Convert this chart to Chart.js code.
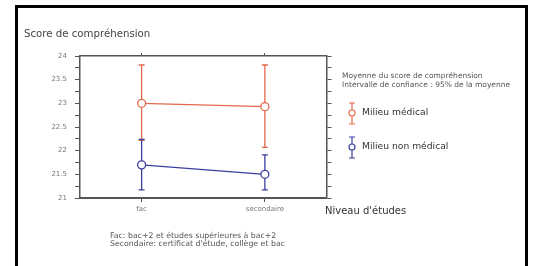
<!DOCTYPE html>
<html>
<head>
<meta charset="utf-8">
<script src="https://cdn.jsdelivr.net/npm/chart.js@4/dist/chart.umd.min.js"></script>
<style>
  html, body { margin: 0; padding: 0; background: #fff; overflow: hidden; }
  #wrap { position: relative; width: 536px; height: 266px; }
  #frame { position: absolute; left: 15px; top: 5px; width: 507px; height: 300px; border: 3px solid #000; box-sizing: content-box; }
  canvas { position: absolute; left: 0; top: 0; }
  .txt { position: absolute; white-space: nowrap; font-family: "DejaVu Sans", Verdana, sans-serif; color: #444; line-height: 1; }
</style>
</head>
<body>
<div id="wrap">
  <div id="frame"></div>
  <canvas id="chart" width="536" height="266"></canvas>
  <div class="txt" style="left:24px; top:29px; font-size:10.2px;">Score de compréhension</div>
  <div class="txt" style="left:325px; top:206px; font-size:10px; color:#333;">Niveau d'études</div>
  <div class="txt" style="left:342px; top:71px; font-size:7.5px; line-height:9px; color:#555;">Moyenne du score de compréhension<br>Intervalle de confiance : 95% de la moyenne</div>
  <div class="txt" style="left:110px; top:232px; font-size:7.8px; line-height:8px; color:#555;">Fac: bac+2 et études supérieures à bac+2<br>Secondaire: certificat d'étude, collège et bac</div>
</div>
<script>
// values
const categories = ["fac", "secondaire"];
const seriesLabels = ["Milieu médical", "Milieu non médical"];
const medicalMean = [23.0, 22.93];
const medicalLow = [22.22, 22.07];
const medicalHigh = [23.81, 23.81];
const nonMedicalMean = [21.70, 21.50];
const nonMedicalLow = [21.17, 21.17];
const nonMedicalHigh = [22.24, 21.91];

const red = "#e4684c";
const blue = "#3d3f9e";
const axisColor = "#555";

// error bars under the points, drawn through the chart's own scales
const errorBars = {
  id: "errorBars",
  beforeDatasetsDraw(chart) {
    const ctx = chart.ctx;
    const x = chart.scales.x;
    const y = chart.scales.y;
    chart.data.datasets.forEach((ds, i) => {
      ctx.save();
      ctx.strokeStyle = ds.borderColor;
      ctx.lineWidth = 1.3;
      ds.data.forEach((v, j) => {
        const px = x.getPixelForValue(j);
        const top = y.getPixelForValue(ds.high[j]);
        const bot = y.getPixelForValue(ds.low[j]);
        ctx.beginPath();
        ctx.moveTo(px, top); ctx.lineTo(px, bot);
        ctx.moveTo(px - 3, top); ctx.lineTo(px + 3, top);
        ctx.moveTo(px - 3, bot); ctx.lineTo(px + 3, bot);
        ctx.stroke();
      });
      ctx.restore();
    });
  }
};

// legend with error-bar glyphs, right of the plot
const sideLegend = {
  id: "sideLegend",
  afterDraw(chart) {
    const ctx = chart.ctx;
    const rows = [113, 147];
    chart.data.datasets.forEach((ds, i) => {
      const cx = 352, cy = rows[i];
      ctx.save();
      ctx.strokeStyle = ds.borderColor;
      ctx.lineWidth = 1.2;
      ctx.beginPath();
      ctx.moveTo(cx, cy - 10); ctx.lineTo(cx, cy + 11);
      ctx.moveTo(cx - 3, cy - 10); ctx.lineTo(cx + 3, cy - 10);
      ctx.moveTo(cx - 3, cy + 11); ctx.lineTo(cx + 3, cy + 11);
      ctx.stroke();
      ctx.beginPath();
      ctx.arc(cx, cy, 3, 0, Math.PI * 2);
      ctx.fillStyle = "#fff";
      ctx.fill();
      ctx.stroke();
      ctx.fillStyle = "#333";
      ctx.font = "9.2px 'DejaVu Sans'";
      ctx.textBaseline = "middle";
      ctx.fillText(ds.label, 362, cy);
      ctx.restore();
    });
  }
};

const yOpts = (pos) => ({
  position: pos,
  min: 21,
  max: 24,
  border: { display: true, color: axisColor, width: 1.5 },
  grid: { drawOnChartArea: false, drawTicks: true, tickLength: 5, color: axisColor },
  ticks: {
    display: pos === "left",
    stepSize: 0.25,
    autoSkip: false,
    padding: 8,
    color: "#777",
    font: { family: "DejaVu Sans", size: 7 },
    callback: v => (Math.abs(v * 2 - Math.round(v * 2)) < 1e-6 ? String(v) : "")
  }
});

new Chart(document.getElementById("chart"), {
  type: "line",
  data: {
    labels: categories,
    datasets: [
      { label: seriesLabels[0], data: medicalMean, low: medicalLow, high: medicalHigh,
        borderColor: red, borderWidth: 1.2, pointRadius: 4, pointBorderWidth: 1.3,
        pointBackgroundColor: "#fff", pointBorderColor: red },
      { label: seriesLabels[1], data: nonMedicalMean, low: nonMedicalLow, high: nonMedicalHigh,
        borderColor: blue, borderWidth: 1.2, pointRadius: 4, pointBorderWidth: 1.3,
        pointBackgroundColor: "#fff", pointBorderColor: blue }
    ]
  },
  options: {
    responsive: false,
    animation: false,
    layout: { padding: { left: 0, right: 199.5, top: 50, bottom: 48 } },
    plugins: { legend: { display: false }, tooltip: { enabled: false } },
    scales: {
      x: {
        offset: true,
        border: { display: true, color: axisColor, width: 2 },
        grid: { drawOnChartArea: false, tickLength: 4, color: axisColor },
        ticks: { color: "#777", padding: 3, font: { family: "DejaVu Sans", size: 7 } },
        afterFit: s => { s.height = 20; }
      },
      x2: {
        type: "category",
        labels: categories,
        position: "top",
        offset: true,
        border: { display: true, color: axisColor, width: 1.5 },
        grid: { drawOnChartArea: false, tickLength: 3, color: axisColor },
        ticks: { display: false },
        afterFit: s => { s.height = 6; }
      },
      y: Object.assign(yOpts("left"), { afterFit: s => { s.width = 80; } }),
      y2: Object.assign(yOpts("right"), { afterFit: s => { s.width = 10; } })
    }
  },
  plugins: [errorBars, sideLegend]
});
</script>
</body>
</html>
